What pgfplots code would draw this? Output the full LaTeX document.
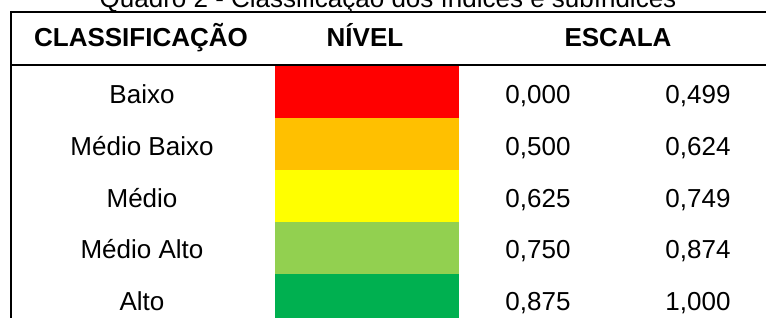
\documentclass[border=0pt]{standalone}
\usepackage{fontspec}
\setmainfont{Liberation Sans}
\usepackage{pgfplots}
\pgfplotsset{compat=1.18}
\definecolor{cBaixo}{HTML}{FF0000}
\definecolor{cMedBaixo}{HTML}{FFC000}
\definecolor{cMedio}{HTML}{FFFF00}
\definecolor{cMedAlto}{HTML}{92D050}
\definecolor{cAlto}{HTML}{00B050}
\tikzset{txt/.style={font=\fontsize{26}{30}\selectfont, inner sep=0pt, anchor=base},
         hdr/.style={font=\fontsize{26}{30}\selectfont\bfseries, inner sep=0pt, anchor=base}}
\begin{document}
\begin{tikzpicture}
\useasboundingbox (0,0) rectangle (766pt,318pt);
\clip (0,0) rectangle (766pt,318pt);
\begin{axis}[width=766pt, height=318pt, scale only axis,
  xmin=0, xmax=766, ymin=0, ymax=318, y dir=reverse,
  hide axis, clip=false]
% NIVEL colour cells (x from 275 to 459; rows of 52 units)
\addplot[fill=cBaixo, draw=none, mark=none] coordinates {(275,65) (459,65) (459,118) (275,118)};
\addplot[fill=cMedBaixo, draw=none, mark=none] coordinates {(275,118) (459,118) (459,170) (275,170)};
\addplot[fill=cMedio, draw=none, mark=none] coordinates {(275,170) (459,170) (459,222) (275,222)};
\addplot[fill=cMedAlto, draw=none, mark=none] coordinates {(275,222) (459,222) (459,274) (275,274)};
\addplot[fill=cAlto, draw=none, mark=none] coordinates {(275,274) (459,274) (459,330) (275,330)};
% rules
\draw[line width=2pt] (axis cs:11,12) -- (axis cs:770,12);
\draw[line width=2pt] (axis cs:11,65) -- (axis cs:770,65);
\draw[line width=2pt] (axis cs:11,11) -- (axis cs:11,330);
% title
\node[txt] at (axis cs:388,7.5) {Quadro 2 - Classificação dos índices e subíndices};
% header
\node[hdr] at (axis cs:141,47) {CLASSIFICAÇÃO};
\node[hdr] at (axis cs:365,47) {NÍVEL};
\node[hdr] at (axis cs:618,47) {ESCALA};
% rows
\node[txt] at (axis cs:142,103) {Baixo};
\node[txt] at (axis cs:142,155) {Médio Baixo};
\node[txt] at (axis cs:142,207) {Médio};
\node[txt] at (axis cs:142,258.5) {Médio Alto};
\node[txt] at (axis cs:142,310.5) {Alto};
\node[txt] at (axis cs:538,103) {0,000};
\node[txt] at (axis cs:538,155) {0,500};
\node[txt] at (axis cs:538,207) {0,625};
\node[txt] at (axis cs:538,258.5) {0,750};
\node[txt] at (axis cs:538,310.5) {0,875};
\node[txt] at (axis cs:698,103) {0,499};
\node[txt] at (axis cs:698,155) {0,624};
\node[txt] at (axis cs:698,207) {0,749};
\node[txt] at (axis cs:698,258.5) {0,874};
\node[txt] at (axis cs:698,310.5) {1,000};
\end{axis}
\end{tikzpicture}
\end{document}
